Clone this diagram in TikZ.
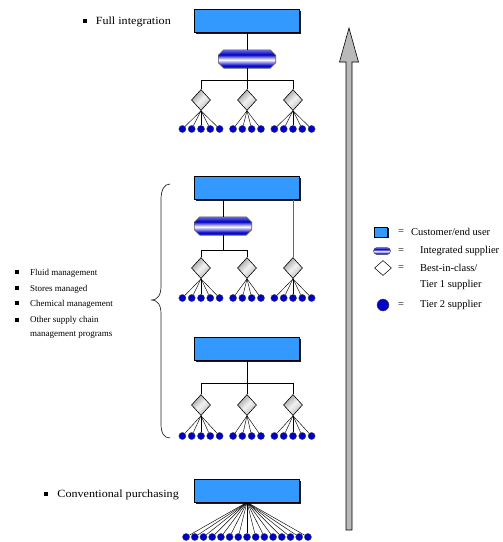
\documentclass[tikz,border=0pt]{standalone}
\usepackage{fontspec}
\setmainfont{Liberation Serif}
\newfontfamily\widelabelfont[FakeStretch=1.1]{Liberation Serif}
\usetikzlibrary{shapes.geometric,shapes.misc,shadows}
\definecolor{custblue}{RGB}{51,153,255}
\definecolor{dotblue}{RGB}{0,0,200}
\definecolor{arrowgray}{RGB}{185,185,185}
\pgfdeclareverticalshading{intsupshade}{100bp}{color(0bp)=(gray!40); color(15bp)=(blue!55); color(32bp)=(blue!80!black); color(48bp)=(white); color(62bp)=(blue!75!black); color(82bp)=(blue!35!white); color(100bp)=(white!85!gray)}
\newcommand\tiertwofan[4]{% #1 diamond name, #2 x centre, #3 count, #4 y
  \foreach \k in {1,...,#3}{%
    \node[tiertwo] (#1-\k) at ({#2+(\k-(#3+1)/2)*9.3},#4) {};
    \draw[fanline] (#1.south) -- (#1-\k);
  }}
\newcommand\octoutline[2]{% #1 node name, #2 chamfer
  \shadedraw[shading=intsupshade, draw=gray!70!black, line width=0.6pt]
   ([xshift=#2]#1.north west) -- ([xshift=-#2]#1.north east) -- ([yshift=-#2]#1.north east)
   -- ([yshift=#2]#1.south east) -- ([xshift=-#2]#1.south east) -- ([xshift=#2]#1.south west)
   -- ([yshift=#2]#1.south west) -- ([yshift=-#2]#1.north west) -- cycle;}
\begin{document}
\begin{tikzpicture}[x=1pt,y=-1pt,
  boxfill/.style={draw=black, line width=0.6pt, fill=custblue, inner sep=0pt},
  custbox/.style={boxfill, minimum width=105pt, minimum height=23pt,
     drop shadow={shadow xshift=1.6pt, shadow yshift=-1.6pt, opacity=0.9, fill=black}},
  intsup/.style={rectangle, minimum width=57pt, minimum height=18pt, inner sep=0pt},
  tierone/.style={diamond, draw=black, line width=0.6pt, minimum width=19pt, minimum height=21pt, inner sep=0pt,
     left color=gray!75, right color=gray!55, middle color=gray!10, shading angle=45},
  tiertwo/.style={circle, draw=black!70, line width=0.3pt, fill=dotblue, minimum size=7.2pt, inner sep=0pt},
  conn/.style={draw=black, line width=0.6pt},
  fanline/.style={draw=black, line width=0.45pt},
  bulletsq/.style={fill=black, minimum size=4pt, inner sep=0pt},
  lbl/.style={font=\fontsize{9}{13.5}\selectfont, inner sep=0pt},
  biglbl/.style={font=\widelabelfont\fontsize{11}{13}\selectfont, inner sep=0pt},
  legtext/.style={font=\fontsize{10.5}{12}\selectfont, inner sep=0pt, anchor=west}
]
\useasboundingbox (0,0) rectangle (503,542);

% ---------- top: full integration ----------
\node[custbox] (b1) at (247,21) {};
\node[intsup] (o1) at (247,59) {};
\octoutline{o1}{5.5pt}
\coordinate (h1) at (247,80);
\node[tierone] (d1a) at (201,100) {};
\node[tierone] (d1b) at (247,100) {};
\node[tierone] (d1c) at (293,100) {};
\draw[conn] (b1.south) -- (o1.north);
\draw[conn] (o1.south) -- (h1);
\draw[conn] (d1a.north) -- (d1a.north |- h1) -- (d1c.north |- h1) -- (d1c.north);
\draw[conn] (h1) -- (d1b.north);
\tiertwofan{d1a}{201}{5}{129}
\tiertwofan{d1b}{247}{4}{129}
\tiertwofan{d1c}{293}{5}{129}

% ---------- second ----------
\node[custbox] (b2) at (247,188) {};
\node[intsup] (o2) at (223,226) {};
\octoutline{o2}{5.5pt}
\coordinate (h2) at (223,250);
\node[tierone] (d2a) at (201,268) {};
\node[tierone] (d2b) at (247,268) {};
\node[tierone] (d2c) at (293,268) {};
\draw[conn] (o2.north |- b2.south) -- (o2.north);
\draw[conn] (o2.south) -- (h2);
\draw[conn] (d2a.north) -- (d2a.north |- h2) -- (d2b.north |- h2) -- (d2b.north);
\draw[conn, draw=gray!80!black] (d2c.north |- b2.south) -- (d2c.north);
\tiertwofan{d2a}{201}{5}{298}
\tiertwofan{d2b}{247}{4}{298}
\tiertwofan{d2c}{293}{5}{298}

% ---------- third ----------
\node[custbox] (b3) at (247,349) {};
\coordinate (h3) at (247,383);
\node[tierone] (d3a) at (201,405) {};
\node[tierone] (d3b) at (247,405) {};
\node[tierone] (d3c) at (293,405) {};
\draw[conn] (b3.south) -- (h3);
\draw[conn] (d3a.north) -- (d3a.north |- h3) -- (d3c.north |- h3) -- (d3c.north);
\draw[conn] (h3) -- (d3b.north);
\tiertwofan{d3a}{201}{5}{436}
\tiertwofan{d3b}{247}{4}{436}
\tiertwofan{d3c}{293}{5}{436}

% ---------- bottom: conventional ----------
\node[custbox] (b4) at (247,490.5) {};
\foreach \k in {1,...,15}{%
  \node[tiertwo] (p\k) at ({247+(\k-8)*8.7},537) {};
  \draw[fanline] (b4.south) -- (p\k);
}

% ---------- labels ----------
\node[biglbl, anchor=base east] (tfull) at (171,24) {Full integration};
\node[bulletsq] (bfull) at ([xshift=-11pt,yshift=3.5pt]tfull.base west) {};
\node[biglbl, anchor=base east] (tconv) at (179,497) {Conventional purchasing};
\node[bulletsq] (bconv) at ([xshift=-11pt,yshift=3.5pt]tconv.base west) {};

\node[lbl, anchor=base west] (l1) at (30,275) {Fluid management};
\node[lbl, anchor=base west] (l2) at (30,291) {Stores managed};
\node[lbl, anchor=base west] (l3) at (30,306) {Chemical management};
\node[lbl, anchor=north west, align=left] (l4) at (30,316.5) {Other supply chain\\management programs};
\node[bulletsq] (s1) at (17,272) {};
\node[bulletsq] (s2) at (17,288) {};
\node[bulletsq] (s3) at (17,303) {};
\node[bulletsq] (s4) at (17,320) {};

% brace
\draw[gray!30!black, line width=0.7pt]
  (170,184) .. controls (164,184) and (161,190) .. (161,200) -- (161,286)
  .. controls (161,295) and (158,300) .. (151,300)
  .. controls (158,300) and (161,305) .. (161,314) -- (161,424)
  .. controls (161,433) and (164,438) .. (170,438);

% ---------- arrow ----------
\draw[fill=arrowgray, line width=0.6pt]
  (346,530) -- (346,62) -- (339.5,62) -- (349,28) -- (358.5,62) -- (352,62) -- (352,530) -- cycle;

% ---------- legend ----------
\node[boxfill, minimum width=13pt, minimum height=10pt,
  drop shadow={shadow xshift=1pt, shadow yshift=-1pt, opacity=0.9, fill=black}] (lgbox) at (381,232) {};
\node[rounded rectangle, draw=gray!60!black, line width=0.5pt, shading=intsupshade,
  minimum width=17pt, minimum height=7pt, inner sep=0pt] (lgoct) at (382,251) {};
\node[diamond, draw=black, line width=0.5pt, fill=white, minimum width=17pt, minimum height=15pt, inner sep=0pt] (lgdia) at (383,268) {};
\node[circle, draw=black!70, line width=0.4pt, fill=dotblue, minimum size=12pt, inner sep=0pt] (lgdot) at (383,305) {};
\node[legtext] (e1) at (398,232) {=};
\node[legtext] (e2) at (398,251) {=};
\node[legtext] (e3) at (398,268) {=};
\node[legtext] (e4) at (398,305) {=};
\node[legtext] (t1) at (411,232) {Customer/end user};
\node[legtext] (t2) at (420,251) {Integrated supplier};
\node[legtext] (t3) at (420,268) {Best-in-class/};
\node[legtext] (t3b) at (420,285) {Tier 1 supplier};
\node[legtext] (t4) at (420,305) {Tier 2 supplier};
\end{tikzpicture}
\end{document}
